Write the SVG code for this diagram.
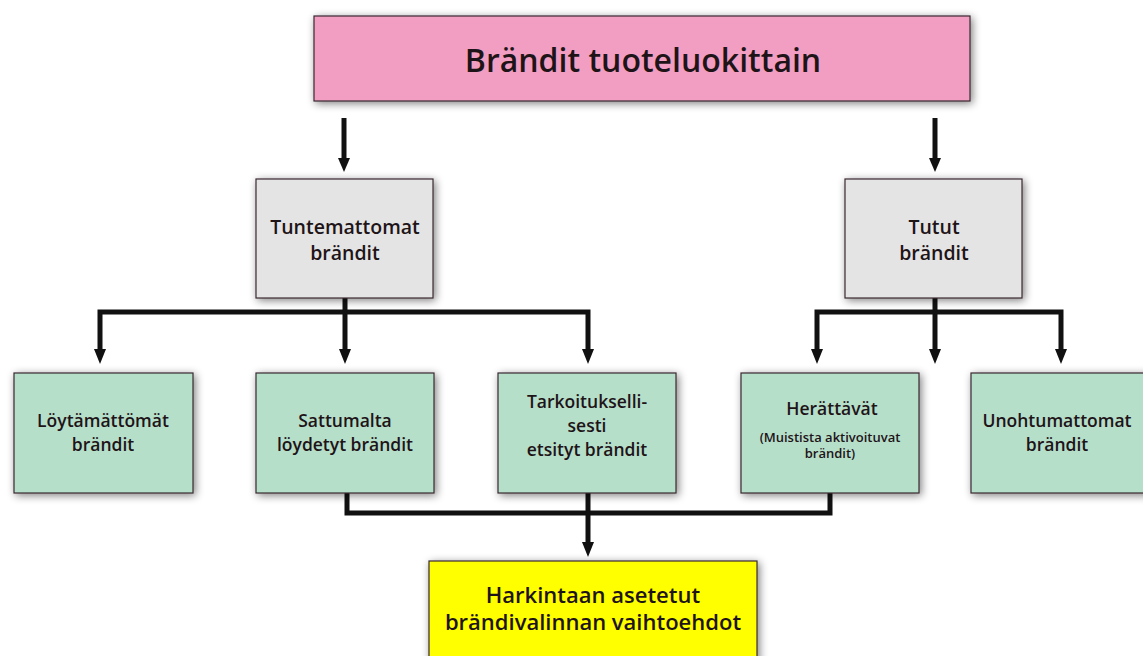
<svg xmlns="http://www.w3.org/2000/svg" width="1143" height="656" viewBox="0 0 1143 656">
  <style>
    .box { stroke: #3a2a30; stroke-width: 1.2; filter: url(#shadow); }
    .pink { fill: #f29ec2; }
    .grey { fill: #e4e4e4; }
    .green { fill: #b6dfca; }
    .yellow { fill: #ffff00; }
    text { font-family: "Open Sans", "Noto Sans", "DejaVu Sans", sans-serif; font-weight: 600; fill: #1e1418; text-anchor: middle; }
    .title { font-size: 32px; }
    .mid { font-size: 19.5px; }
    .small { font-size: 17.5px; }
    .tiny { font-size: 13px; }
    .big { font-size: 22px; }
    .wire { fill: none; stroke: #111; stroke-width: 5; stroke-linejoin: miter; }
  </style>
  <defs>
    <filter id="shadow" x="-10%" y="-15%" width="120%" height="130%">
      <feGaussianBlur in="SourceAlpha" stdDeviation="4"/>
      <feOffset dx="2" dy="2" result="b"/>
      <feComponentTransfer><feFuncA type="linear" slope="0.5"/></feComponentTransfer>
      <feMerge><feMergeNode/><feMergeNode in="SourceGraphic"/></feMerge>
    </filter>
  </defs>

  <rect width="1143" height="656" fill="#ffffff"/>

  <!-- connectors: stems, branch bars and arrowheads -->
  <g id="connectors">
    <path class="wire" d="M344,118 V160"/>
    <path class="wire" d="M935,118 V160"/>
    <path class="wire" d="M345,298 V352"/>
    <path class="wire" d="M100,352 V312 H588 V352"/>
    <path class="wire" d="M935,298 V352"/>
    <path class="wire" d="M817,352 V312 H1061 V352"/>
    <path class="wire" d="M347,493 V513 H830 V493"/>
    <path class="wire" d="M588,493 V545"/>
    <g fill="#111">
      <path d="M338,158 L350,158 L344,172 Z"/>
      <path d="M929,158 L941,158 L935,172 Z"/>
      <path d="M94,349 L106,349 L100,364 Z"/>
      <path d="M339,349 L351,349 L345,364 Z"/>
      <path d="M582,349 L594,349 L588,364 Z"/>
      <path d="M811,349 L823,349 L817,364 Z"/>
      <path d="M929,349 L941,349 L935,364 Z"/>
      <path d="M1055,349 L1067,349 L1061,364 Z"/>
      <path d="M582,542 L594,542 L588,557 Z"/>
    </g>
  </g>

  <g id="top">
    <rect class="box pink" x="314" y="16" width="656" height="85"/>
    <text class="title" x="643" y="72">Brändit tuoteluokittain</text>
  </g>

  <g id="unknown">
    <rect class="box grey" x="256" y="179" width="177" height="119"/>
    <text class="mid" x="345" y="234">Tuntemattomat</text>
    <text class="mid" x="345" y="260">brändit</text>
  </g>

  <g id="known">
    <rect class="box grey" x="845" y="179" width="177" height="119"/>
    <text class="mid" x="934" y="234">Tutut</text>
    <text class="mid" x="934" y="260">brändit</text>
  </g>

  <g id="unfound">
    <rect class="box green" x="14" y="373" width="179" height="120"/>
    <text class="small" x="103" y="427">Löytämättömät</text>
    <text class="small" x="103" y="451">brändit</text>
  </g>

  <g id="chance">
    <rect class="box green" x="256" y="373" width="178" height="120"/>
    <text class="small" x="345" y="427">Sattumalta</text>
    <text class="small" x="345" y="451">löydetyt brändit</text>
  </g>

  <g id="sought">
    <rect class="box green" x="498" y="373" width="178" height="120"/>
    <text class="small" x="587" y="408">Tarkoitukselli-</text>
    <text class="small" x="587" y="432">sesti</text>
    <text class="small" x="587" y="456">etsityt brändit</text>
  </g>

  <g id="evoked">
    <rect class="box green" x="741" y="373" width="178" height="120"/>
    <text class="small" x="832" y="415">Herättävät</text>
    <text class="tiny" x="830" y="442">(Muistista aktivoituvat</text>
    <text class="tiny" x="830" y="458">brändit)</text>
  </g>

  <g id="memorable">
    <rect class="box green" x="971" y="373" width="180" height="120"/>
    <text class="small" x="1057" y="427">Unohtumattomat</text>
    <text class="small" x="1057" y="451">brändit</text>
  </g>

  <g id="considered">
    <rect class="box yellow" x="429" y="561" width="328" height="110"/>
    <text class="big" x="593" y="603">Harkintaan asetetut</text>
    <text class="big" x="593" y="630">brändivalinnan vaihtoehdot</text>
  </g>
</svg>
